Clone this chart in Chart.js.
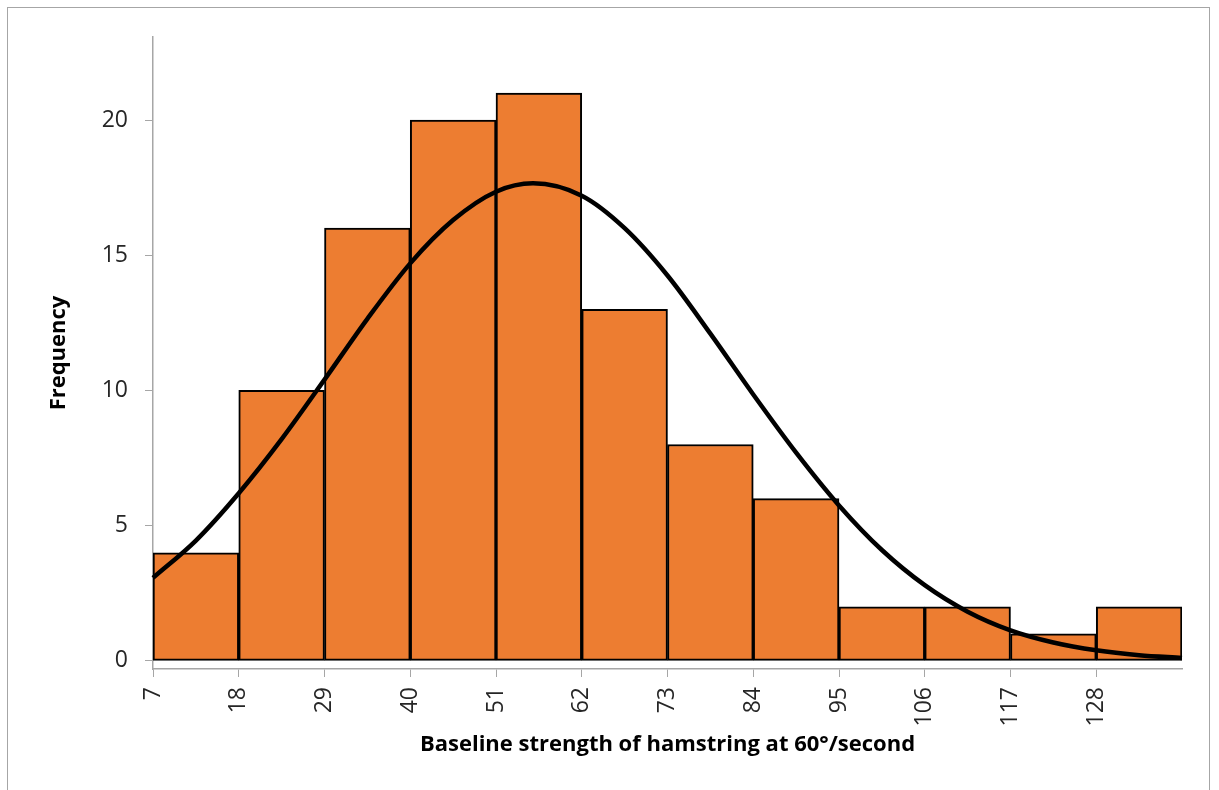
<!DOCTYPE html>
<html>
<head>
<meta charset="utf-8">
<script src="https://cdn.jsdelivr.net/npm/chart.js@4.4.1/dist/chart.umd.min.js"></script>
<style>
  html, body { margin: 0; padding: 0; background: #ffffff; }
  #frame {
    position: absolute; left: 7px; top: 7px; width: 1203px; height: 800px;
    border: 1px solid #a6a6a6; box-sizing: border-box;
  }
  #hist { position: absolute; left: 0; top: 0; }
</style>
</head>
<body>
<div id="frame"></div>
<canvas id="hist" width="1219" height="790"></canvas>
<script>
// ============= DATA =============

// bin edges (width 11) and the frequency in each bin
const binEdges = [7, 18, 29, 40, 51, 62, 73, 84, 95, 106, 117, 128, 139];
const frequencies = [4, 10, 16, 20, 21, 13, 8, 6, 2, 2, 1, 2];

// fitted normal curve
const curveX = [7, 12.5, 18, 23.5, 29, 34.5, 40, 45.5, 51, 55.75, 62, 67.5, 73,
  78.5, 84, 89.5, 95, 100.5, 106, 111.5, 117, 122.5, 128, 133.5, 139];
const curveY = [3.07, 4.45, 6.2, 8.2, 10.4, 12.65, 14.7, 16.3, 17.35, 17.66, 17.2, 16.0, 14.25,
  12.1, 9.85, 7.7, 5.75, 4.1, 2.8, 1.82, 1.13, 0.68, 0.39, 0.21, 0.11];

// y tick labels shown
const yTicks = [0, 5, 10, 15, 20];

const xTitle = 'Baseline strength of hamstring at 60°/second';
const yTitle = 'Frequency';

// ============= CHART =============

const barPoints = frequencies.map((f, i) => ({
  x: (binEdges[i] + binEdges[i + 1]) / 2,
  y: f
}));
const curvePoints = curveX.map((x, i) => ({ x: x, y: curveY[i] }));

const tickFont = { family: 'Open Sans', size: 23 };
const titleFont = { family: 'Open Sans', size: 22, weight: 'bold' };
const axisGray = '#a6a6a6';

const ctx = document.getElementById('hist').getContext('2d');
const histChart = new Chart(ctx, {
  type: 'bar',
  data: {
    datasets: [
      {
        type: 'line',
        data: curvePoints,
        borderColor: '#000000',
        borderWidth: 4.5,
        pointRadius: 0,
        cubicInterpolationMode: 'monotone',
        fill: false,
        clip: 8,
        order: 0
      },
      {
        type: 'bar',
        data: barPoints,
        backgroundColor: '#ED7D31',
        borderColor: '#000000',
        borderWidth: 2,
        borderSkipped: false,
        barPercentage: 1.0,
        categoryPercentage: 1.0,
        order: 1
      }
    ]
  },
  options: {
    responsive: false,
    animation: false,
    layout: { padding: { left: 0, top: 37, right: 37, bottom: 0 } },
    plugins: {
      legend: { display: false },
      tooltip: { enabled: false }
    },
    scales: {
      x: {
        type: 'linear',
        offset: false,
        min: binEdges[0],
        max: binEdges[binEdges.length - 1],
        afterBuildTicks: (scale) => {
          // label only the left edge of each bin
          scale.ticks = binEdges.slice(0, -1).map(v => ({ value: v }));
        },
        afterFit: (scale) => { scale.height = 121; },
        ticks: {
          stepSize: 11,
          minRotation: 90,
          maxRotation: 90,
          autoSkip: false,
          padding: 10,
          color: '#262626',
          font: tickFont
        },
        grid: {
          offset: false,
          drawOnChartArea: false,
          drawTicks: true,
          tickLength: 8,
          color: axisGray
        },
        border: { display: true, color: axisGray, width: 1.5 },
        title: {
          display: true,
          text: xTitle,
          color: '#000000',
          font: titleFont,
          padding: { top: 4, bottom: 32 }
        }
      },
      y: {
        type: 'linear',
        min: -0.3,
        max: 23.07,
        afterBuildTicks: (scale) => {
          scale.ticks = yTicks.map(v => ({ value: v }));
        },
        afterFit: (scale) => { scale.width = 153; },
        ticks: {
          stepSize: 5,
          padding: 17,
          color: '#262626',
          font: tickFont
        },
        grid: {
          drawOnChartArea: false,
          drawTicks: true,
          tickLength: 8,
          color: axisGray
        },
        border: { display: true, color: axisGray, width: 1.5 },
        title: {
          display: true,
          text: yTitle,
          color: '#000000',
          font: titleFont,
          padding: { top: 46, bottom: 0 }
        }
      }
    }
  }
});
</script>
</body>
</html>
